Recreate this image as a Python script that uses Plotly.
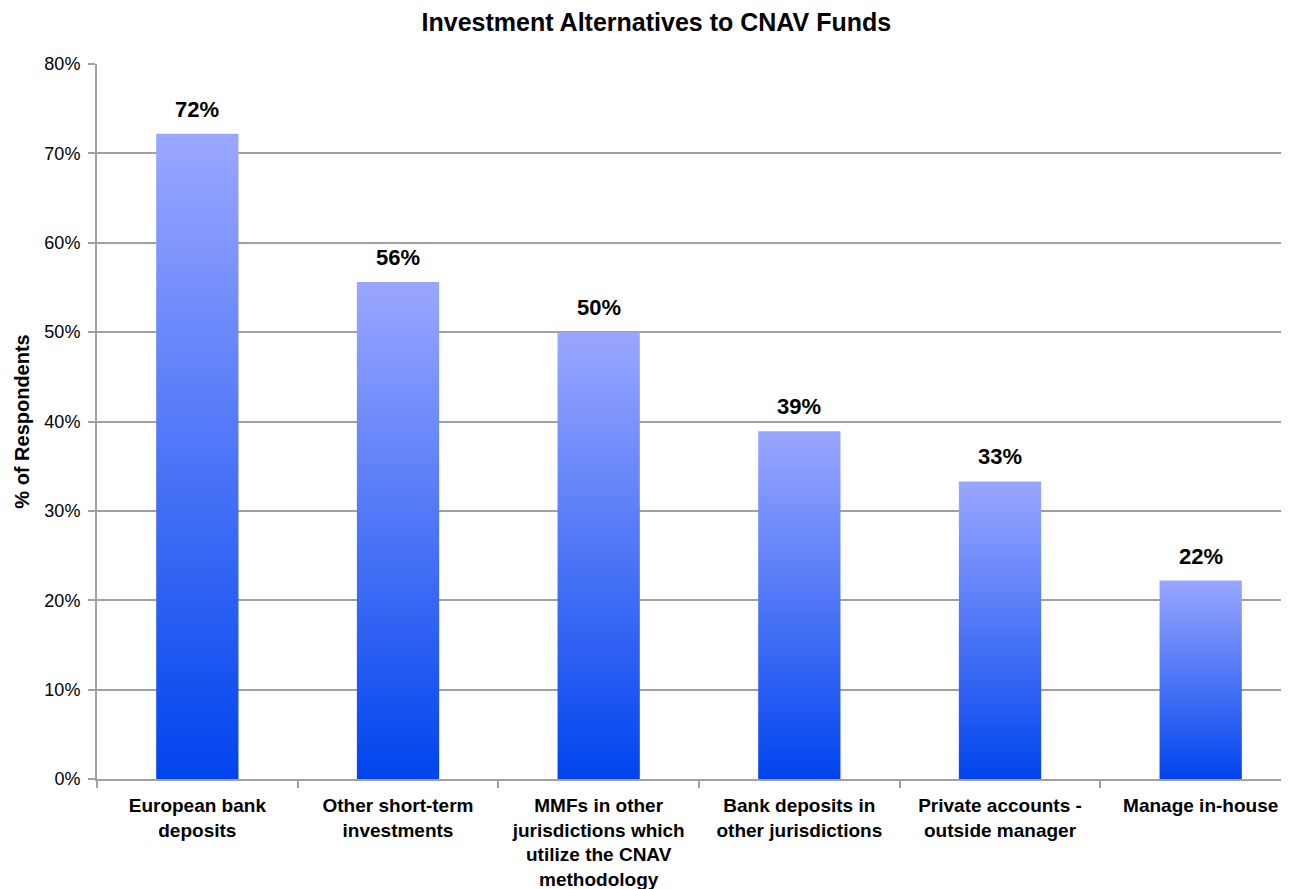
import plotly.graph_objects as go

categories = [
    "European bank<br>deposits",
    "Other short-term<br>investments",
    "MMFs in other<br>jurisdictions which<br>utilize the CNAV<br>methodology",
    "Bank deposits in<br>other jurisdictions",
    "Private accounts -<br>outside manager",
    "Manage in-house",
]
values = [72.2, 55.6, 50.0, 38.9, 33.3, 22.2]
labels = ["72%", "56%", "50%", "39%", "33%", "22%"]

BAR_W = 0.41
FONT = "Liberation Sans, Arial, sans-serif"
GRID = "#a0a0a0"

fig = go.Figure()
for i, v in enumerate(values):
    x0, x1 = i - BAR_W / 2, i + BAR_W / 2
    fig.add_trace(go.Scatter(
        x=[x0, x1, x1, x0, x0], y=[0, 0, v, v, 0],
        mode="lines", line=dict(width=0), fill="toself",
        fillgradient=dict(type="vertical", start=0, stop=v,
                          colorscale=[[0, "#0044ee"], [1, "#9aa7ff"]]),
        hoverinfo="skip", showlegend=False,
    ))
    fig.add_annotation(x=i, y=v, text=f"<b>{labels[i]}</b>", showarrow=False,
                       xanchor="center", yanchor="bottom", yshift=10,
                       font=dict(family=FONT, size=22, color="black"))

fig.update_layout(
    width=1289, height=889,
    paper_bgcolor="white", plot_bgcolor="white",
    margin=dict(l=89, r=0, t=56, b=118),
    title=dict(text="<b>Investment Alternatives to CNAV Funds</b>",
               x=0.503, xanchor="center", y=0.984, yanchor="middle",
               font=dict(family=FONT, size=25, color="black")),
    font=dict(family=FONT, color="black"),
)
fig.update_xaxes(
    range=[-0.5, 5.48], tickmode="array",
    tickvals=list(range(len(categories))), ticktext=[f"<b>{c}</b>" for c in categories],
    ticks="", showgrid=False, zeroline=False,
    showline=True, linecolor=GRID, linewidth=2,
    tickfont=dict(family=FONT, size=19, color="black"),
    minor=dict(tickmode="array", tickvals=[k - 0.5 for k in range(len(categories) + 1)],
               ticks="outside", ticklen=7, tickcolor=GRID, tickwidth=2, showgrid=False),
    ticklabelstandoff=8,
)
fig.update_yaxes(
    range=[0, 80], dtick=10, ticksuffix="%",
    showgrid=True, gridcolor=GRID, gridwidth=1.5,
    zeroline=False, showline=True, linecolor=GRID, linewidth=2,
    ticks="outside", ticklen=7, tickcolor=GRID, tickwidth=2,
    tickfont=dict(family=FONT, size=18, color="black"),
    ticklabelstandoff=4,
    title=dict(text="<b>% of Respondents</b>", font=dict(family=FONT, size=20, color="black"),
               standoff=9),
)

fig.write_html("out.html")
